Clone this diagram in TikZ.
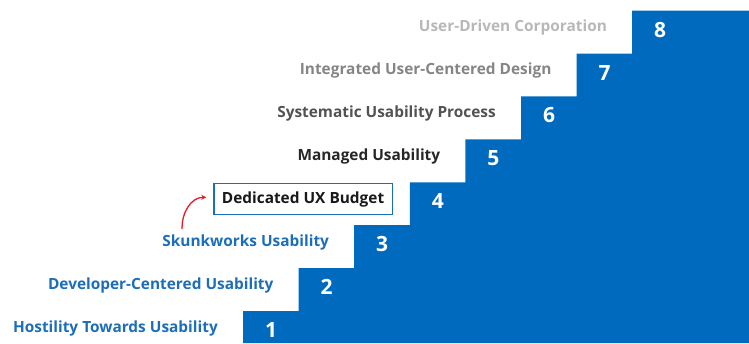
\documentclass[tikz,border=0pt]{standalone}
\usepackage{fontspec}
\setmainfont{Open Sans}
\usetikzlibrary{arrows.meta}
\definecolor{stairblue}{RGB}{0,106,190}
\definecolor{lblblue}{RGB}{28,110,185}
\definecolor{arrred}{RGB}{225,30,40}
\tikzset{
  x=1pt,y=1pt,
  lbl/.style={anchor=east,inner sep=0pt,font=\fontsize{15.4}{17}\selectfont\bfseries},
  num/.style={inner sep=0pt,text=white,font=\fontsize{21}{23}\selectfont\bfseries},
}
\begin{document}
\begin{tikzpicture}
\useasboundingbox (0,0) rectangle (749,343);
% staircase (image coords: left_i = 243+55.6(i-1), top_i = 311-42.9(i-1))
\fill[stairblue]
  (243,0) -- (243,32) -- (298.6,32) -- (298.6,74.9) -- (354.2,74.9) -- (354.2,117.8)
  -- (409.8,117.8) -- (409.8,160.7) -- (465.4,160.7) -- (465.4,203.6)
  -- (521,203.6) -- (521,246.5) -- (576.6,246.5) -- (576.6,289.4)
  -- (632.2,289.4) -- (632.2,332.3) -- (749,332.3) -- (749,0) -- cycle;
% numbers
\foreach \i in {1,...,8}{
  \node[num] (n\i) at ({243+55.6*(\i-1)+28},{343-(311-42.9*(\i-1))-19}) {\i};
}
% labels
\node[lbl,text=lblblue] (l1) at ({243-25},{343-311-17}) {Hostility Towards Usability};
\node[lbl,text=lblblue] (l2) at ({298.6-25},{343-268.1-17}) {Developer-Centered Usability};
\node[lbl,text=lblblue] (l3) at ({354.2-25},{343-225.2-17}) {Skunkworks Usability};
\node[anchor=east,draw=lblblue,line width=1.2pt,inner xsep=8pt,minimum height=31pt,
      text=black!90,font=\fontsize{15.4}{17}\selectfont\bfseries] (l4)
  at ({409.8-17},{343-182.3-17}) {Dedicated UX Budget};
\node[lbl,text=black!85] (l5) at ({465.4-25},{343-139.4-17}) {Managed Usability};
\node[lbl,text=black!68] (l6) at ({521-25},{343-96.5-17}) {Systematic Usability Process};
\node[lbl,text=black!48] (l7) at ({576.6-25},{343-53.6-17}) {Integrated User-Centered Design};
\node[lbl,text=black!28] (l8) at ({632.2-25},{343-10.7-17}) {User-Driven Corporation};
% red arrow
\coordinate (as) at (182,114);
\draw[arrred,line width=1.3pt,-{Stealth[length=5pt,width=5pt]}]
  (as) to[out=92,in=180] ([xshift=-7pt,yshift=2pt]l4.west);
\end{tikzpicture}
\end{document}
